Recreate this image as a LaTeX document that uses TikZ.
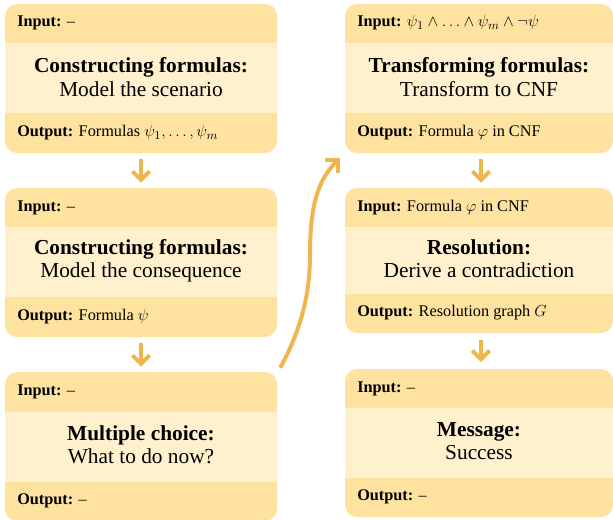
\documentclass[tikz,border=0pt]{standalone}
\usepackage{fontspec}
\setmainfont{Liberation Serif}
\usetikzlibrary{arrows.meta,fit,calc}
\definecolor{hdr}{RGB}{254,227,160}
\definecolor{mid}{RGB}{255,240,206}
\definecolor{arrc}{RGB}{240,182,78}
\begin{document}
\begin{tikzpicture}[x=0.75pt,y=-0.75pt,
  boxbg/.style={inner sep=0pt, fill=hdr, rounded corners=9pt},
  lbl/.style={anchor=west, inner sep=0pt, font=\fontsize{12.2}{14}\selectfont},
  ttl/.style={align=center, inner sep=0pt, font=\fontsize{16}{17.5}\selectfont},
  arr/.style={draw=arrc, line width=3pt, -{Straight Barb[length=6.5pt,width=13pt]}}]
\useasboundingbox (0,0) rectangle (613,519);
\begin{scope}
\clip (0,0) rectangle (613,519);
% left column
\node[boxbg, fit={(5,4) (277,153)}] (b1) {};
\fill[mid] (5,43) rectangle (277,113);
\node[boxbg, fit={(5,188) (277,337)}] (b2) {};
\fill[mid] (5,227) rectangle (277,297);
\node[boxbg, fit={(5,372) (277,521)}] (b3) {};
\fill[mid] (5,412) rectangle (277,482);
% right column
\node[boxbg, fit={(345,4) (613,153)}] (r1) {};
\fill[mid] (345,43) rectangle (613,113);
\node[boxbg, fit={(345,188) (613,333)}] (r2) {};
\fill[mid] (345,227) rectangle (613,294);
\node[boxbg, fit={(345,369) (613,517)}] (r3) {};
\fill[mid] (345,408) rectangle (613,478);
\end{scope}
% texts box 1
\node[lbl] (b1in) at (17,23) {\textbf{Input:} –};
\node[ttl] (b1t) at (141,77) {\textbf{Constructing formulas:}\\Model the scenario};
\node[lbl] (b1out) at (17,133) {\textbf{Output:} Formulas $\psi_1,\ldots,\psi_m$};
% box 2
\node[lbl] (b2in) at (17,208) {\textbf{Input:} –};
\node[ttl] (b2t) at (141,261) {\textbf{Constructing formulas:}\\Model the consequence};
\node[lbl] (b2out) at (17,317) {\textbf{Output:} Formula $\psi$};
% box 3
\node[lbl] (b3in) at (17,392) {\textbf{Input:} –};
\node[ttl] (b3t) at (141,445) {\textbf{Multiple choice:}\\What to do now?};
\node[lbl] (b3out) at (17,501) {\textbf{Output:} –};
% right box 1
\node[lbl] (r1in) at (357,23) {\textbf{Input:} $\psi_1\wedge\ldots\wedge\psi_m\wedge\neg\psi$};
\node[ttl] (r1t) at (479,77) {\textbf{Transforming formulas:}\\Transform to CNF};
\node[lbl] (r1out) at (357,133) {\textbf{Output:} Formula $\varphi$ in CNF};
% right box 2
\node[lbl] (r2in) at (357,208) {\textbf{Input:} Formula $\varphi$ in CNF};
\node[ttl] (r2t) at (479,259) {\textbf{Resolution:}\\Derive a contradiction};
\node[lbl] (r2out) at (357,313) {\textbf{Output:} Resolution graph $G$};
% right box 3
\node[lbl] (r3in) at (357,389) {\textbf{Input:} –};
\node[ttl] (r3t) at (479,441) {\textbf{Message:}\\Success};
\node[lbl] (r3out) at (357,497) {\textbf{Output:} –};
% arrows
\draw[arr, shorten <=4.5pt, shorten >=3.75pt] (b1) -- (b2);
\draw[arr, shorten <=4.5pt, shorten >=3.75pt] (b2) -- (b3);
\draw[arr, shorten <=4.5pt, shorten >=3.75pt] (r1.south -| 481,0) -- (r2.north -| 481,0);
\draw[arr, shorten <=5pt, shorten >=5pt] (r2.south -| 481,0) -- (r3.north -| 481,0);
\draw[arr] ($(b3.north east)+(3,-4)$) .. controls (298,335) and (310,300) .. (310,255)
  .. controls (310,205) and (318,180) .. ($(r1.south west)+(-5,5)$);
\end{tikzpicture}
\end{document}
